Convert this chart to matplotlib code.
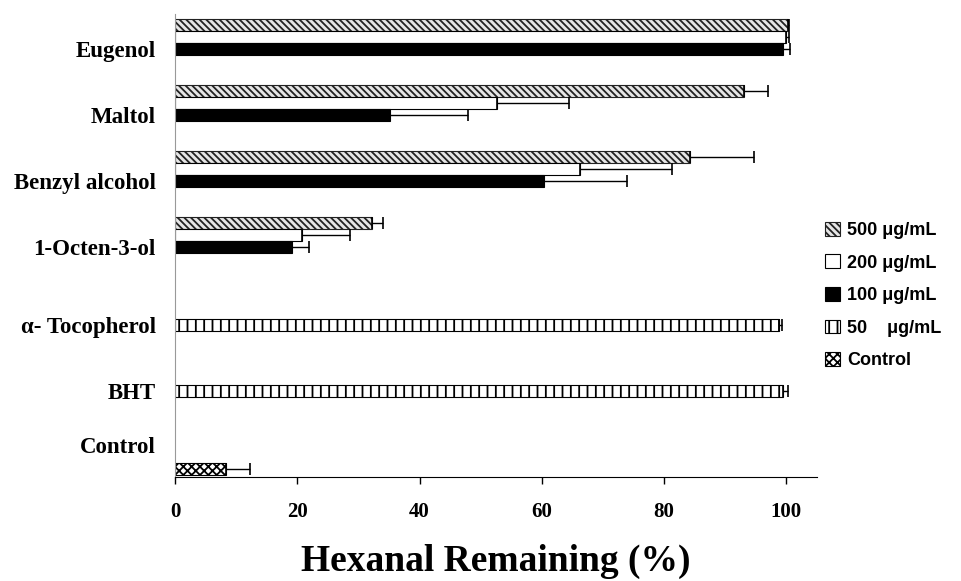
import matplotlib
matplotlib.use("Agg")
import matplotlib.pyplot as plt
from matplotlib.patches import Patch

# data
categories = ["Eugenol", "Maltol", "Benzyl alcohol", "1-Octen-3-ol",
              "α- Tocopherol", "BHT", "Control"]

val_500 = [100.3, 93.1, 84.2, 32.3]
err_500 = [0.2, 3.9, 10.5, 1.8]
val_200 = [100.0, 52.6, 66.3, 20.8]
err_200 = [0.4, 11.8, 15.0, 7.9]
val_100 = [99.5, 35.2, 60.3, 19.2]
err_100 = [1.1, 12.7, 13.7, 2.7]
val_50 = [98.8, 99.4]          # alpha-tocopherol, BHT
err_50 = [0.5, 0.9]
val_control = [8.3]
err_control = [3.9]

series_labels = ["500 μg/mL", "200 μg/mL", "100 μg/mL", "50    μg/mL", "Control"]

plt.rcParams["hatch.linewidth"] = 1.3
serif = ["Liberation Serif", "DejaVu Serif"]
sans = ["Liberation Sans", "DejaVu Sans"]

GROUP = 5.5   # vertical space of one compound (in bar slots)

styles = [
    dict(facecolor="#e6e6e6", hatch="\\\\\\\\\\", edgecolor="#222222"),
    dict(facecolor="white", hatch=None, edgecolor="black"),
    dict(facecolor="black", hatch=None, edgecolor="black"),
    dict(facecolor="white", hatch="||", edgecolor="black"),
    dict(facecolor="white", hatch="xxxx", edgecolor="black"),
]


def slot_pos(groups, slot):
    return [g * GROUP + slot + 0.5 for g in groups]


fig = plt.figure(figsize=(9.62, 5.81), dpi=100)
ax = fig.add_axes([0.182, 0.179, 0.667, 0.797])

ekw = dict(ecolor="black", elinewidth=1.0, capsize=4.5, capthick=1.2)

plot_sets = [
    (range(4), 0, val_500, err_500),
    (range(4), 1, val_200, err_200),
    (range(4), 2, val_100, err_100),
    ([4, 5], 3, val_50, err_50),
    ([6], 4, val_control, err_control),
]
for i, (groups, slot, vals, errs) in enumerate(plot_sets):
    ys = slot_pos(groups, slot)
    ax.barh(ys, vals, height=1.0, linewidth=0.8, **styles[i],
            xerr=[[0] * len(errs), errs], error_kw=ekw)

# label positions: group centre, except the single-bar antioxidants
tick_y = [g * GROUP + 2.5 for g in range(4)] + slot_pos([4, 5], 3) + [6 * GROUP + 2.5]
ax.set_yticks(tick_y)
ax.set_yticklabels(categories, family=serif, fontweight="bold", fontsize=16.5)
ax.tick_params(axis="y", length=0, pad=14)

ax.set_ylim(38.17, -0.42)
ax.set_xlim(0, 105)
ax.set_xticks([0, 20, 40, 60, 80, 100])
ax.set_xticklabels(["0", "20", "40", "60", "80", "100"], family=serif,
                   fontweight="bold", fontsize=15)
ax.tick_params(axis="x", direction="out", length=5, width=1, pad=13)

ax.spines["top"].set_visible(False)
ax.spines["right"].set_visible(False)
ax.spines["left"].set_color("#999999")
ax.spines["bottom"].set_color("black")

ax.set_xlabel("Hexanal Remaining (%)", family=serif, fontweight="bold",
              fontsize=27, labelpad=16)

handles = [Patch(linewidth=0.8, **styles[i]) for i in range(5)]
fig.legend(handles, series_labels, loc="upper left", bbox_to_anchor=(0.858, 0.618),
           frameon=False, handlelength=0.8, handleheight=0.8, handletextpad=0.4,
           labelspacing=0.85, borderaxespad=0, borderpad=0,
           prop=dict(family=sans, weight="bold", size=13))

fig.savefig("out.png", dpi=100)
